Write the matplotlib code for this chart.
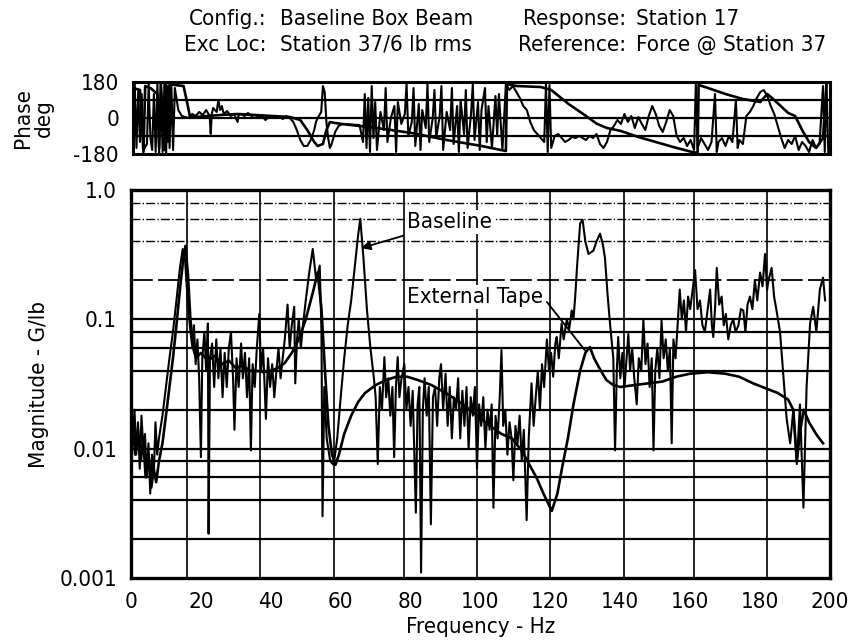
import matplotlib.pyplot as plt
from matplotlib.ticker import NullLocator

plt.rcParams['font.family'] = ['Liberation Sans Narrow', 'DejaVu Sans']
plt.rcParams['font.stretch'] = 'condensed'

# header text
head_labels_left = ['Config.:', 'Exc Loc:']
head_values_left = ['Baseline Box Beam', 'Station 37/6 lb rms']
head_labels_right = ['Response:', 'Reference:']
head_values_right = ['Station 17', 'Force @ Station 37']

# magnitude, baseline (G/lb)
base_freq = [0.5, 1.0, 1.5, 2.0, 2.5, 3.0, 3.5, 4.0, 4.5, 5.0, 5.5, 6.0, 6.5, 7.0, 7.5, 8.0,
             9.0, 10.0, 11.0, 12.0, 13.0, 14.0, 14.8, 15.5, 16.2, 17.0, 17.6, 18.0, 18.5, 19.0,
             19.5, 20.0, 20.4, 21.0, 21.5, 22.0, 22.2, 22.6, 23.2, 23.8, 24.4, 25.0, 25.6, 26.2,
             26.8, 27.4, 28.0, 28.6, 29.2, 29.6, 30.2, 30.8, 31.5, 32.0, 32.6, 33.2, 33.8, 34.3,
             34.8, 35.4, 36.0, 36.7, 37.2, 37.8, 38.6, 39.2, 39.8, 40.4, 41.0, 41.6, 42.2, 42.8,
             43.4, 44.0, 44.8, 45.4, 46.0, 46.7, 47.0, 47.5, 48.0, 48.6, 49.2, 50.0, 51.0, 52.0,
             53.0, 54.0, 54.5, 54.8, 55.3, 56.0, 57.0, 58.0, 59.0, 60.0, 61.0, 62.0, 63.0, 64.0,
             65.0, 65.6, 66.5, 67.5, 68.5, 69.5, 70.0, 70.6, 71.2, 71.8, 72.5, 73.0, 73.6, 74.2,
             74.8, 75.3, 75.8, 76.3, 76.8, 77.4, 78.2, 78.8, 79.4, 80.0, 80.6, 81.5, 82.0, 82.5,
             83.0, 83.5, 84.0, 84.6, 85.2, 85.8, 86.4, 87.0, 87.6, 88.2, 88.7, 89.3, 90.0, 90.6,
             91.2, 91.8, 92.4, 93.0, 93.6, 94.2, 94.8, 95.4, 96.0, 96.6, 97.2, 97.8, 98.4, 99.0,
             99.6, 100.2, 100.8, 101.4, 102.0, 102.6, 103.2, 103.7, 104.3, 104.9, 105.5, 106.0,
             106.5, 107.1, 107.7, 108.3, 108.9, 109.4, 110.0, 110.6, 111.2, 111.8, 112.4, 113.2,
             113.8, 114.6, 115.2, 115.8, 116.4, 117.0, 117.6, 118.2, 119.0, 119.6, 120.2, 120.8,
             121.4, 121.8, 122.4, 123.2, 123.8, 124.7, 125.4, 126.1, 126.6, 127.1, 127.6, 128.5,
             129.2, 130.0, 130.9, 131.6, 132.3, 133.2, 134.2, 135.0, 135.6, 136.4, 137.1, 138.0,
             138.5, 139.0, 139.4, 140.0, 140.6, 141.2, 141.8, 142.3, 142.8, 143.4, 144.0, 144.7,
             145.3, 146.0, 146.6, 147.2, 147.8, 148.4, 149.0, 149.5, 150.0, 150.6, 151.2, 151.8,
             152.4, 153.0, 153.6, 154.2, 154.7, 155.2, 155.8, 156.4, 157.0, 157.6, 158.2, 158.8,
             159.4, 160.0, 160.7, 161.4, 162.1, 162.8, 163.5, 164.2, 165.0, 165.7, 166.2, 166.6,
             167.1, 167.6, 168.3, 169.0, 169.6, 170.2, 170.9, 171.6, 172.3, 173.0, 173.8, 174.5,
             175.2, 175.8, 176.4, 177.1, 177.8, 178.5, 179.2, 180.0, 180.7, 181.4, 182.0, 182.4,
             183.3, 184.0, 184.7, 185.7, 186.6, 187.6, 188.6, 189.5, 190.5, 191.4, 192.4, 193.3,
             194.3, 195.2, 196.1, 197.1, 198.0, 198.6]
base_mag = [0.012, 0.02, 0.009, 0.016, 0.007, 0.018, 0.01, 0.013, 0.006, 0.011, 0.0045, 0.009,
            0.006, 0.016, 0.009, 0.012,
            0.018, 0.03, 0.05, 0.08, 0.14, 0.25, 0.35, 0.28, 0.14, 0.08, 0.06, 0.09, 0.045, 0.07,
            0.035, 0.0086, 0.05, 0.08, 0.04, 0.093, 0.0022, 0.05, 0.065, 0.03, 0.07, 0.035, 0.06, 0.025,
            0.055, 0.03, 0.06, 0.08, 0.035, 0.014, 0.05, 0.03, 0.065, 0.035, 0.055, 0.025, 0.05, 0.0097,
            0.045, 0.03, 0.06, 0.11, 0.04, 0.06, 0.017, 0.05, 0.03, 0.045, 0.025, 0.04, 0.06, 0.035,
            0.05, 0.07, 0.13, 0.06, 0.09, 0.125, 0.032, 0.07, 0.1, 0.06, 0.09, 0.14, 0.23, 0.35,
            0.2, 0.26, 0.08, 0.003, 0.03, 0.012, 0.008, 0.0075, 0.012, 0.025, 0.05, 0.09, 0.14, 0.25,
            0.45, 0.6, 0.3, 0.12, 0.06, 0.035, 0.025, 0.0076, 0.03, 0.02, 0.051, 0.025, 0.035, 0.018,
            0.03, 0.0086, 0.03, 0.051, 0.025, 0.035, 0.045, 0.02, 0.03, 0.015, 0.028, 0.0032, 0.022, 0.03,
            0.0011, 0.02, 0.035, 0.018, 0.03, 0.0026, 0.025, 0.03, 0.015, 0.035, 0.045, 0.02, 0.038, 0.015,
            0.03, 0.012, 0.025, 0.02, 0.035, 0.012, 0.028, 0.015, 0.03, 0.01, 0.025, 0.018, 0.03, 0.007,
            0.022, 0.015, 0.025, 0.01, 0.02, 0.014, 0.022, 0.0035, 0.018, 0.012, 0.025, 0.058,
            0.015, 0.02, 0.009, 0.016, 0.012, 0.0057, 0.015, 0.011, 0.018, 0.008, 0.014, 0.0028,
            0.012, 0.032, 0.015, 0.025, 0.04, 0.02, 0.045, 0.03, 0.07, 0.04, 0.055, 0.036,
            0.065, 0.073, 0.05, 0.093, 0.07, 0.1, 0.085, 0.117, 0.1, 0.15, 0.25, 0.55,
            0.59, 0.4, 0.32, 0.33, 0.34, 0.4, 0.46, 0.38, 0.3, 0.15, 0.09, 0.05,
            0.0097, 0.04, 0.073, 0.035, 0.055, 0.03, 0.05, 0.077, 0.04, 0.06, 0.035, 0.022,
            0.05, 0.04, 0.1, 0.045, 0.065, 0.03, 0.05, 0.0097, 0.04, 0.06, 0.035, 0.098,
            0.05, 0.07, 0.04, 0.06, 0.011, 0.07, 0.05, 0.09, 0.17, 0.1, 0.14, 0.08,
            0.15, 0.12, 0.17, 0.24, 0.12, 0.14, 0.09, 0.08, 0.12, 0.17, 0.09, 0.073,
            0.12, 0.25, 0.13, 0.15, 0.09, 0.11, 0.07, 0.09, 0.1, 0.08, 0.09, 0.12,
            0.117, 0.08, 0.13, 0.15, 0.12, 0.2, 0.14, 0.23, 0.18, 0.32, 0.17, 0.2,
            0.25, 0.15, 0.117, 0.08, 0.038, 0.017, 0.011, 0.02, 0.0076, 0.022, 0.0035, 0.03,
            0.093, 0.125, 0.08, 0.17, 0.21, 0.14]

# magnitude, external tape (G/lb)
tape_freq = [0.5, 1.2, 2.0, 2.8, 3.5, 4.2, 5.0, 5.8, 6.5, 7.2, 8.0, 9.0, 10.0, 11.0, 12.0, 13.0,
             14.0, 15.0, 15.6, 16.3, 17.0, 17.8, 18.6, 20.0, 22.0, 24.0, 26.0, 28.0, 30.0, 32.0,
             34.0, 36.0, 38.0, 40.0, 42.0, 44.0, 46.0, 48.0, 50.0, 52.0, 53.4, 54.5, 55.5, 56.5,
             57.5, 58.5, 59.5, 61.0, 63.0, 65.0, 67.0, 70.0, 73.0, 76.0, 79.0, 82.0, 86.0, 90.0,
             94.0, 98.0, 102.0, 106.0, 109.0, 112.0, 114.0, 116.0, 118.0, 120.4, 122.0, 123.5,
             125.0, 126.6, 128.5, 130.0, 131.3, 132.5, 134.0, 136.0, 138.0, 140.0, 144.0, 148.0,
             152.0, 156.0, 160.0, 165.0, 170.0, 174.0, 178.0, 182.0, 185.0, 188.0, 189.5, 190.5,
             191.5, 192.5, 194.0, 196.0, 198.0]
tape_mag = [0.015, 0.009, 0.014, 0.008, 0.012, 0.006, 0.009, 0.005, 0.007, 0.0055, 0.008, 0.011,
            0.018, 0.03, 0.05, 0.09, 0.17, 0.3, 0.37, 0.22, 0.1, 0.06, 0.05, 0.055, 0.048, 0.052,
            0.045, 0.048, 0.042, 0.044, 0.04, 0.04, 0.039, 0.04, 0.042, 0.046, 0.055, 0.07, 0.1,
            0.16, 0.23, 0.12, 0.04, 0.015, 0.009, 0.0075, 0.009, 0.013, 0.018, 0.023, 0.027, 0.031,
            0.034, 0.036, 0.036, 0.034, 0.031, 0.027, 0.023, 0.019, 0.0155, 0.013, 0.012, 0.0095,
            0.0075, 0.006, 0.0045, 0.0033, 0.0045, 0.0075, 0.012, 0.022, 0.04, 0.055, 0.061, 0.05,
            0.042, 0.034, 0.031, 0.03, 0.031, 0.032, 0.033, 0.036, 0.038, 0.039, 0.038, 0.036,
            0.032, 0.029, 0.027, 0.024, 0.02, 0.008, 0.014, 0.02, 0.016, 0.013, 0.011]

# phase, baseline (deg)
base_ph_freq = [0.5, 1.0, 1.5, 2.0, 2.5, 3.0, 4.0, 4.5, 5.0, 5.5, 6.0, 6.5, 7.0, 7.5, 8.0, 8.5,
                9.0, 9.5, 10.0, 10.5, 11.0, 11.5, 12.0, 13.0, 14.0, 15.0, 16.0, 17.0, 18.0, 19.0,
                20.0, 21.0, 22.0, 22.3, 22.6, 23.0, 24.0, 24.5, 25.0, 25.5, 26.0, 27.0, 28.0, 29.0,
                30.0, 30.3, 31.0, 32.0, 33.0, 34.0, 35.0, 36.0, 37.0, 38.0, 39.0, 40.0, 41.0, 42.0,
                43.0, 44.0, 45.0, 46.0, 47.0, 48.0, 49.0, 50.0, 51.0, 52.0, 52.5, 53.0, 54.0, 54.5,
                55.0, 55.5, 56.0, 56.5, 57.0, 58.0, 59.0, 60.0, 65.0, 66.0, 66.5, 67.0, 67.5, 68.0,
                68.5, 69.0, 69.5, 70.0, 71.0, 72.0, 72.5, 73.0, 74.0, 75.0, 75.5, 76.0, 77.0, 78.0,
                78.5, 79.0, 80.0, 80.5, 81.0, 82.0, 82.5, 83.0, 84.0, 84.5, 85.0, 86.0, 86.5, 87.0,
                88.0, 88.5, 89.0, 90.0, 91.0, 91.5, 92.0, 93.0, 93.5, 94.0, 95.0, 95.5, 96.0, 97.0,
                97.5, 98.0, 99.0, 99.5, 100.0, 101.0, 101.5, 102.0, 103.0, 104.0, 104.5, 105.0,
                106.0, 107.0, 108.0, 109.0, 110.0, 111.0, 112.0, 113.0, 114.0, 115.0, 116.0, 117.0,
                118.0, 118.5, 119.0, 119.5, 120.0, 121.0, 122.0, 123.0, 124.0, 125.0, 126.0, 127.0,
                128.0, 130.0, 131.0, 132.0, 133.0, 134.0, 135.0, 136.0, 137.0, 138.0, 139.0, 140.0,
                141.0, 142.0, 143.0, 144.0, 145.0, 146.0, 147.0, 148.0, 149.0, 150.0, 151.0, 152.0,
                153.0, 154.0, 155.0, 156.0, 157.0, 158.0, 159.0, 160.0, 161.0, 161.5, 162.0, 163.0,
                164.0, 165.0, 166.0, 167.0, 167.5, 168.0, 169.0, 170.0, 171.0, 172.0, 173.0, 173.5,
                174.0, 175.0, 176.0, 177.0, 178.0, 179.0, 180.0, 181.0, 182.0, 183.0, 184.0, 185.0,
                186.0, 187.0, 188.0, 189.0, 190.0, 191.0, 192.0, 193.0, 194.0, 195.0, 196.0, 197.0,
                198.0, 198.5, 199.0, 199.5]
base_ph = [170, -150, 140, -120, 120, -160, -130, 170, -100, -160, 120, -170, 170, -175, 175, -170,
           170, -175, 160, -150, 170, -160, 150, 40, 10, 5, 0, 20, 10, 30,
           15, 40, 10, -80, 20, 50, 30, 90, 40, 60, 20, 35, 10, 20,
           -20, 15, 20, 10, 25, 10, 15, 5, 10, -10, 5, 10, 0, 5,
           -5, 10, 0, -20, -60, -110, -140, -140, -110, -60, -20, 0, 30, 160,
           130, -20, -100, -150, -130, -70, -40, -30, -35, -120, 120, -150, 100, -170,
           160, -100, 80, -160, 30, -60, 150, -120, 0, 60, -170, 80, -30, 20,
           170, -90, -20, 150, -140, 70, -160, 40, -50, 170, -120, 0, 140, -100,
           10, 160, -160, 30, -60, 150, -130, 60, -170, 90, -80, 140, -150, 20,
           170, -110, 80, -160, 40, 150, -120, 60, -150, 110, -90, 120,
           -160, 170, 140, 160, 130, 100, 60, 40, -20, -60, -80, -100,
           -120, 170, -170, 165, -150, -90, -80, -100, -120, -110, -95, -100,
           -90, -110, -90, -100, -80, -130, -150, -120, -60, -40, -10, -30,
           20, -20, 10, -50, 5, -30, -60, 10, 60, 20, -40, -70,
           -20, 40, 10, -90, -120, -100, -140, -110, -160, 170, -150, -100,
           -130, -160, -120, 120, -170, -120, -100, -140, -90, -120, 90, -150,
           -110, -130, 10, 30, 60, 100, 130, 140, 110, 60, 20, -40,
           -100, -150, -110, -130, -90, -160, -120, -140, -170, -110, -150, -130,
           160, -170, 170, -170]

# phase, external tape (deg)
tape_ph_freq = [0.0, 2.0, 3.0, 3.5, 5.0, 7.0, 7.5, 8.0, 9.0, 9.5, 10.0, 10.5, 12.0, 14.5, 15.5,
                16.3, 18.0, 20.0, 25.0, 30.0, 35.0, 40.0, 45.0, 48.0, 50.0, 52.0, 53.0, 54.5,
                55.5, 56.5, 58.0, 60.0, 70.0, 80.0, 90.0, 100.0, 107.0, 107.3, 110.0, 117.0,
                120.0, 125.0, 130.0, 133.0, 136.0, 140.0, 145.0, 150.0, 155.0, 160.0, 162.0,
                162.3, 165.0, 170.0, 175.0, 180.0, 182.0, 184.0, 188.0, 190.0, 192.0, 194.0,
                196.0, 198.0, 199.0]
tape_ph = [150, 140, -170, 160, 150, 120, -150, 170, -160, 165, -120, 170, 165, 160, 80,
           10, 5, 8, 15, 20, 15, 10, 5, -10, -60, -120, -140, -130,
           -60, -20, -25, -30, -50, -75, -110, -140, -165, 170, 160, 155,
           140, 70, 10, -28, -50, -65, -95, -120, -145, -168, -175,
           165, 150, 120, 95, 80, 120, 90, 25, 10, -60, -120,
           -150, -100, 170]

# frequency grid lines as drawn on the original plot
freq_grid = [16, 37, 58, 78, 99, 120, 141, 161, 182]
mag_grid_solid = [0.1, 0.08, 0.06, 0.04, 0.02, 0.01, 0.008, 0.006, 0.004, 0.002]
mag_grid_dash = [0.8, 0.6, 0.4]

fs = 16
fig = plt.figure(figsize=(8.54, 6.43), dpi=100)
ax_ph = fig.add_axes([133 / 854, 1 - 154 / 643, 697 / 854, 72 / 643])
ax = fig.add_axes([131 / 854, 1 - 578 / 643, 699 / 854, 388 / 643])

# header
for i in range(2):
    y = 1 - (19 + 26 * i) / 643
    fig.text(267 / 854, y, head_labels_left[i], ha='right', va='center', fontsize=fs)
    fig.text(280 / 854, y, head_values_left[i], ha='left', va='center', fontsize=fs)
    fig.text(626 / 854, y, head_labels_right[i], ha='right', va='center', fontsize=fs)
    fig.text(636 / 854, y, head_values_right[i], ha='left', va='center', fontsize=fs)

# phase panel
for g in [-90, 0, 90]:
    ax_ph.axhline(g, color='black', lw=1.6, zorder=1)
ax_ph.plot(tape_ph_freq, tape_ph, color='black', lw=1.9, zorder=3)
ax_ph.plot(base_ph_freq, base_ph, color='black', lw=1.5, zorder=3)
ax_ph.set_xlim(0, 200)
ax_ph.set_ylim(-180, 180)
ax_ph.set_xticks([])
ax_ph.set_yticks([-180, 0, 180])
ax_ph.set_yticklabels(['-180', '0', '180'], fontsize=fs)
ax_ph.tick_params(length=0, pad=10)
ax_ph.set_ylabel('Phase\ndeg', fontsize=fs, linespacing=1.1)
ax_ph.yaxis.set_label_coords(-0.113, 0.5)
for s in ax_ph.spines.values():
    s.set_linewidth(2.2)

# magnitude panel
for g in mag_grid_solid:
    ax.axhline(g, color='black', lw=1.6, zorder=1)
for g in mag_grid_dash:
    ax.axhline(g, color='black', lw=1.0, ls='-.', zorder=1)
ax.axhline(0.2, color='black', lw=1.3, ls=(0, (12, 3)), zorder=1)
for g in freq_grid:
    ax.axvline(g, color='black', lw=1.2, zorder=1)

ax.plot(tape_freq, tape_mag, color='black', lw=1.9, zorder=3)
ax.plot(base_freq, base_mag, color='black', lw=1.5, zorder=3)

ax.set_yscale('log')
ax.set_xlim(0, 200)
ax.set_ylim(0.001, 1.0)
ax.set_yticks([0.001, 0.01, 0.1, 1.0])
ax.set_yticklabels(['0.001', '0.01', '0.1', '1.0'], fontsize=fs)
ax.yaxis.set_minor_locator(NullLocator())
ax.set_xticks(range(0, 201, 20))
ax.set_xticklabels([str(v) for v in range(0, 201, 20)], fontsize=fs)
ax.tick_params(length=0, pad=10)
ax.set_xlabel('Frequency - Hz', fontsize=fs, labelpad=4)
ax.set_ylabel('Magnitude - G/lb', fontsize=fs)
ax.yaxis.set_label_coords(-0.117, 0.5)
for s in ax.spines.values():
    s.set_linewidth(2.4)

box = dict(facecolor='white', edgecolor='none', pad=1.5)
ax.annotate('Baseline', xy=(65.8, 0.355), xytext=(79, 0.565), fontsize=fs,
            ha='left', va='center', bbox=box, zorder=4,
            arrowprops=dict(arrowstyle='-|>', color='black', lw=1.3, shrinkA=4, shrinkB=0,
                            mutation_scale=14))
ax.annotate('External Tape', xy=(129.9, 0.0575), xytext=(79, 0.148), fontsize=fs,
            ha='left', va='center', bbox=box, zorder=4,
            arrowprops=dict(arrowstyle='-', color='black', lw=1.3, shrinkA=2, shrinkB=0,
                            relpos=(1, 0.5)))

fig.savefig('out.png', dpi=100)
